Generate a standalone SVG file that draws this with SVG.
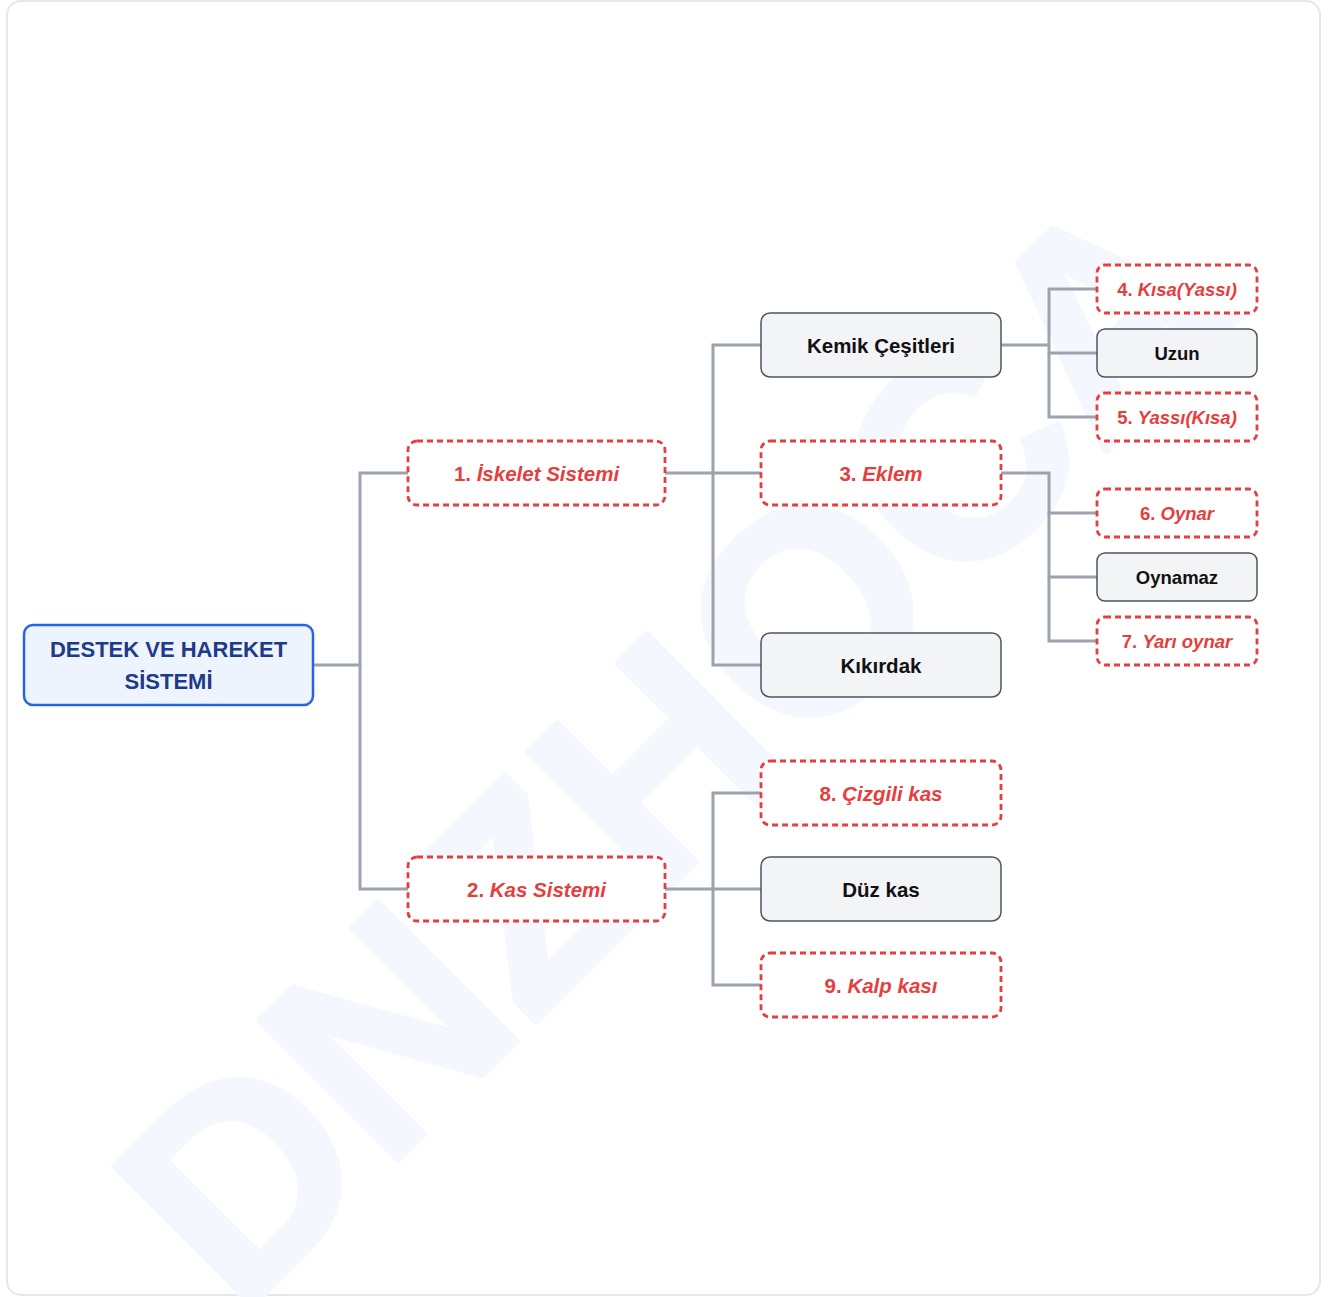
<svg xmlns="http://www.w3.org/2000/svg" width="1335" height="1297" viewBox="0 0 1335 1297">
<style>
.frame{fill:#ffffff;stroke:#e6e7ea;stroke-width:2}
.wm{font-family:"Liberation Sans",Arial,sans-serif;font-weight:bold;font-size:285px;fill:#f4f7fe;stroke:#f4f7fe;stroke-width:6;stroke-linejoin:round}
.root rect{fill:#eef4fe;stroke:#2563eb;stroke-width:2.5}
.root text{font-family:"Liberation Sans",Arial,sans-serif;font-weight:bold;font-size:22px;fill:#1e3a8a;text-anchor:middle}
.dash rect{fill:#ffffff;stroke:#e53e3e;stroke-width:2.8;stroke-dasharray:6 4}
.dash text{font-family:"Liberation Sans",Arial,sans-serif;font-weight:bold;fill:#e53e3e;text-anchor:middle}
.dash tspan.it{font-style:italic}
.gray rect{fill:#f3f4f6;stroke:#4b5563;stroke-width:1.5}
.gray text{font-family:"Liberation Sans",Arial,sans-serif;font-weight:bold;fill:#111111;text-anchor:middle}
.l2 text{font-size:20.5px}
.l3 text{font-size:18.5px}
.conn path{fill:none;stroke:#9ca3af;stroke-width:3;stroke-linejoin:miter}
</style>
<rect class="frame" x="7" y="1" width="1313" height="1294" rx="14"/>
<text class="wm" transform="translate(743,815) rotate(-45)" text-anchor="middle">DNZHOCA</text>
<g id="connectors" class="conn">
<path d="M313,665 H360 V473 H408"/>
<path d="M360,665 V889 H408"/>
<path d="M665,473 H713 V345 H761"/>
<path d="M713,473 H761"/>
<path d="M713,473 V665 H761"/>
<path d="M665,889 H713 V793 H761"/>
<path d="M713,889 H761"/>
<path d="M713,889 V985 H761"/>
<path d="M1001,345 H1049 V289 H1097"/>
<path d="M1049,345 V353 H1097"/>
<path d="M1049,353 V417 H1097"/>
<path d="M1001,473 H1049 V513 H1097"/>
<path d="M1049,513 V577 H1097"/>
<path d="M1049,577 V641 H1097"/>
</g>
<g id="root" class="root">
<rect x="24" y="625" width="289" height="80" rx="9"/>
<text x="168.5" y="657">DESTEK VE HAREKET</text>
<text x="168.5" y="689">SİSTEMİ</text>
</g>
<g id="n1" class="dash l2">
<rect x="408" y="441" width="257" height="64" rx="9"/>
<text x="536.5" y="480.5">1. <tspan class="it">İskelet Sistemi</tspan></text>
</g>
<g id="n2" class="dash l2">
<rect x="408" y="857" width="257" height="64" rx="9"/>
<text x="536.5" y="896.5">2. <tspan class="it">Kas Sistemi</tspan></text>
</g>
<g id="kemik" class="gray l2">
<rect x="761" y="313" width="240" height="64" rx="9"/>
<text x="881" y="352.5">Kemik Çeşitleri</text>
</g>
<g id="n3" class="dash l2">
<rect x="761" y="441" width="240" height="64" rx="9"/>
<text x="881" y="480.5">3. <tspan class="it">Eklem</tspan></text>
</g>
<g id="kikirdak" class="gray l2">
<rect x="761" y="633" width="240" height="64" rx="9"/>
<text x="881" y="672.5">Kıkırdak</text>
</g>
<g id="n8" class="dash l2">
<rect x="761" y="761" width="240" height="64" rx="9"/>
<text x="881" y="800.5">8. <tspan class="it">Çizgili kas</tspan></text>
</g>
<g id="duz" class="gray l2">
<rect x="761" y="857" width="240" height="64" rx="9"/>
<text x="881" y="896.5">Düz kas</text>
</g>
<g id="n9" class="dash l2">
<rect x="761" y="953" width="240" height="64" rx="9"/>
<text x="881" y="992.5">9. <tspan class="it">Kalp kası</tspan></text>
</g>
<g id="n4" class="dash l3">
<rect x="1097" y="265" width="160" height="48" rx="8"/>
<text x="1177" y="296">4. <tspan class="it">Kısa(Yassı)</tspan></text>
</g>
<g id="uzun" class="gray l3">
<rect x="1097" y="329" width="160" height="48" rx="8"/>
<text x="1177" y="360">Uzun</text>
</g>
<g id="n5" class="dash l3">
<rect x="1097" y="393" width="160" height="48" rx="8"/>
<text x="1177" y="424">5. <tspan class="it">Yassı(Kısa)</tspan></text>
</g>
<g id="n6" class="dash l3">
<rect x="1097" y="489" width="160" height="48" rx="8"/>
<text x="1177" y="520">6. <tspan class="it">Oynar</tspan></text>
</g>
<g id="oynamaz" class="gray l3">
<rect x="1097" y="553" width="160" height="48" rx="8"/>
<text x="1177" y="584">Oynamaz</text>
</g>
<g id="n7" class="dash l3">
<rect x="1097" y="617" width="160" height="48" rx="8"/>
<text x="1177" y="648">7. <tspan class="it">Yarı oynar</tspan></text>
</g>
</svg>
